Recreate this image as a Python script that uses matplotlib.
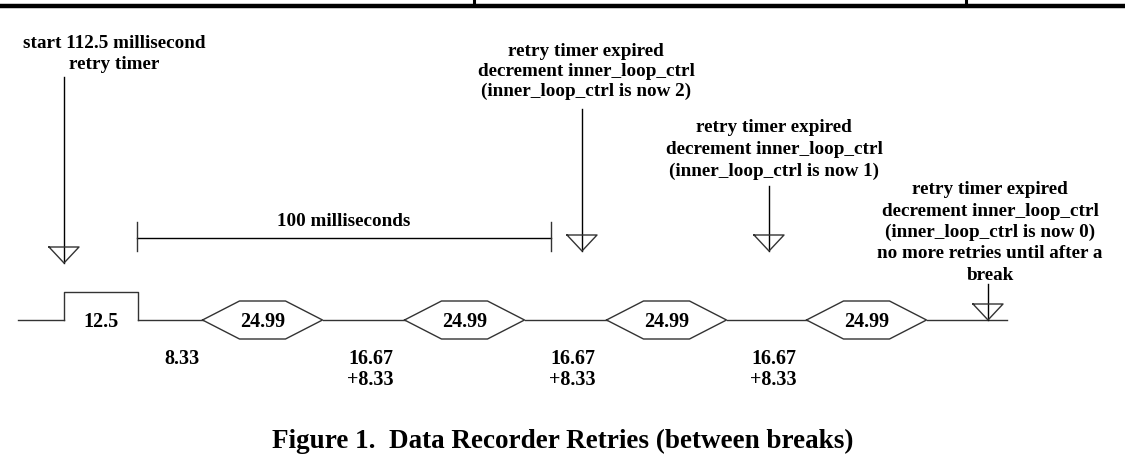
import matplotlib
matplotlib.use("Agg")
import matplotlib.pyplot as plt
import numpy as np

# signal trace: kind of each segment, its drawn width, label inside it
seg_kinds = ["low", "pulse", "low", "hex", "low", "hex", "low", "hex", "low", "hex", "low"]
seg_widths = [46, 73.5, 65, 120, 82, 120, 82, 120, 80, 120, 80]
seg_labels = ["", "12.5", "", "24.99", "", "24.99", "", "24.99", "", "24.99", ""]

# labels under the low gaps (index into segments)
gap_idx = [2, 4, 6, 8]
gap_labels = [["8.33"], ["16.67", "+8.33"], ["16.67", "+8.33"], ["16.67", "+8.33"]]
gap_dx = [12, 7, 7, 7]

# event arrows
event_x = [64, 582, 769, 988]
event_top = [78, 110, 187, 285]
event_tip = [264, 252, 252, 321]
event_text = [
    ["start 112.5 millisecond", "retry timer"],
    ["retry timer expired", "decrement inner_loop_ctrl", "(inner_loop_ctrl is now 2)"],
    ["retry timer expired", "decrement inner_loop_ctrl", "(inner_loop_ctrl is now 1)"],
    ["retry timer expired", "decrement inner_loop_ctrl", "(inner_loop_ctrl is now 0)",
     "no more retries until after a", "break"],
]
event_text_x = [114, 586, 774, 990]
event_text_y = [44, 52, 128, 190]
event_text_step = [20.5, 19.5, 21.5, 21.3]

span_x = [137, 551]
span_label = "100 milliseconds"

caption = "Figure 1.  Data Recorder Retries (between breaks)"

x0 = 18
base_y = 321
pulse_y = 293
hex_h = 19
hex_slant = 37
lc = "#333333"
font = ["Liberation Serif", "DejaVu Serif"]

fig = plt.figure(figsize=(11.25, 4.6), dpi=100)
ax = fig.add_axes([0, 0, 1, 1])
ax.set_xlim(0, 1125)
ax.set_ylim(460, 0)
ax.axis("off")

# top border of the page table
ax.plot([0, 1125], [6.5, 6.5], color="black", lw=3.2, solid_capstyle="butt")
for tx in [474, 966]:
    ax.plot([tx, tx], [0, 6], color="black", lw=2.2)

# signal
edges = x0 + np.concatenate([[0], np.cumsum(seg_widths)])
for i, kind in enumerate(seg_kinds):
    a, b = edges[i], edges[i + 1]
    if kind == "low":
        ax.plot([a, b], [base_y, base_y], color=lc, lw=1)
    elif kind == "pulse":
        ax.plot([a, a, b, b], [base_y, pulse_y, pulse_y, base_y], color=lc, lw=1)
    else:
        xs = [a, a + hex_slant, b - hex_slant, b, b - hex_slant, a + hex_slant, a]
        ys = [base_y, base_y - hex_h, base_y - hex_h, base_y, base_y + hex_h, base_y + hex_h, base_y]
        ax.plot(xs, ys, color=lc, lw=1)
    if seg_labels[i]:
        ax.text((a + b) / 2, base_y + 1, seg_labels[i], ha="center", va="center",
                fontsize=14.5, fontweight="bold", family=font)

for gi, lines, dx in zip(gap_idx, gap_labels, gap_dx):
    cx = (edges[gi] + edges[gi + 1]) / 2 + dx
    for k, s in enumerate(lines):
        ax.text(cx, 359 + 21 * k, s, ha="center", va="center", fontsize=14.5,
                fontweight="bold", family=font)

# event arrows with open triangle heads
for ex, top, tip in zip(event_x, event_top, event_tip):
    ax.plot([ex, ex], [top, tip], color="black", lw=1)
    ax.plot([ex - 15, ex + 15, ex, ex - 15], [tip - 16, tip - 16, tip, tip - 16], color=lc, lw=1)

for lines, tx, ty, step in zip(event_text, event_text_x, event_text_y, event_text_step):
    for k, s in enumerate(lines):
        ax.text(tx, ty + step * k, s, ha="center", va="center", fontsize=13.8,
                fontweight="bold", family=font)

# 100 ms span
ax.plot(span_x, [239, 239], color="black", lw=1)
for sx in span_x:
    ax.plot([sx, sx], [223, 252], color=lc, lw=1)
ax.text(sum(span_x) / 2, 222, span_label, ha="center", va="center", fontsize=13.8,
        fontweight="bold", family=font)

ax.text(563, 448, caption, ha="center", va="baseline", fontsize=19.5, fontweight="bold",
        family=["Liberation Serif"])

fig.savefig("out.png", dpi=100)
